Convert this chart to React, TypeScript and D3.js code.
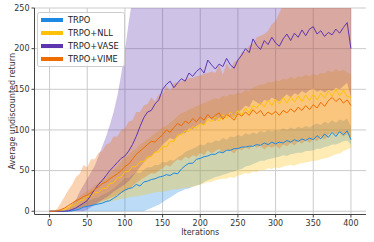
import React from 'react'
import * as d3 from 'd3'

const iterations = d3.range(0, 401, 5)

const trpoMean = [
	0, 0, 0, 0, 0, 0, 0.5, 1.5, 3, 5, 6, 7, 8, 9, 10, 12, 13, 16, 19, 23, 26, 28, 29, 33,
	31, 36, 37, 39, 40, 42, 43, 45, 44, 47, 46, 52, 56, 59, 59, 64, 65, 67, 68, 70, 70, 73, 72, 75,
	75, 77, 77, 79, 79, 80, 80, 82, 81, 84, 82, 85, 83, 85, 84, 87, 85, 88, 86, 89, 87, 90, 88, 93,
	89, 95, 91, 97, 92, 98, 94, 99, 88
]
const trpoLow = [
	0, 0, 0, 0, 0, 0, 0, 0, 0, 0, 0, 0, 0, 0, 0, 0, 0, 0, 0, 0, 0, 0, 0, 0,
	0, 0, 2, 4, 6, 8, 11, 14, 17, 20, 23, 25, 27, 28, 30, 32, 33, 36, 38, 40, 42, 43, 45, 46,
	48, 49, 51, 52, 55, 56, 58, 60, 62, 62, 64, 65, 66, 67, 69, 68, 70, 71, 72, 72, 74, 74, 75, 77,
	77, 79, 80, 82, 82, 84, 86, 87, 82
]
const trpoHigh = [
	0, 0, 0, 0, 0, 1, 3, 5, 8, 10, 12, 14, 16, 17, 20, 22, 25, 28, 32, 36, 41, 41, 45, 48,
	47, 51, 54, 54, 57, 57, 61, 60, 63, 62, 66, 69, 73, 75, 77, 79, 82, 81, 85, 84, 87, 86, 90, 88,
	92, 91, 94, 92, 96, 94, 97, 95, 99, 97, 100, 98, 100, 99, 102, 100, 103, 101, 104, 102, 105, 103, 106, 108,
	106, 110, 108, 112, 109, 113, 111, 114, 104
]

const nllMean = [
	0, 0, 0, 0.5, 2, 4, 7, 8, 13, 14, 18, 18, 23, 23, 28, 28, 34, 35, 41, 42, 49, 49, 55, 55,
	61, 61, 67, 67, 73, 73, 80, 79, 86, 86, 94, 94, 99, 98, 104, 102, 108, 106, 113, 110, 116, 111, 119, 114,
	122, 116, 124, 118, 127, 121, 130, 127, 134, 128, 137, 130, 138, 132, 140, 133, 141, 134, 142, 135, 143, 136, 144, 137,
	145, 139, 148, 141, 150, 142, 149, 141, 140
]
const nllLow = [
	0, 0, 0, 0, 0, 1, 2, 3, 4, 5, 6, 7, 8, 9, 10, 11, 12, 13, 14, 15, 16, 17, 18, 18,
	19, 20, 21, 22, 23, 24, 24, 25, 26, 27, 27, 28, 29, 29, 30, 31, 33, 34, 36, 36, 38, 39, 40, 40,
	42, 41, 44, 45, 47, 46, 49, 48, 51, 50, 53, 52, 54, 53, 55, 56, 57, 56, 58, 59, 60, 61, 62, 62,
	64, 65, 66, 68, 70, 71, 74, 76, 78
]
const nllHigh = [
	0, 0, 0, 1, 4, 7, 10, 14, 18, 22, 25, 28, 32, 35, 39, 42, 47, 51, 55, 61, 66, 69, 74, 77,
	82, 85, 89, 92, 96, 99, 104, 105, 109, 113, 117, 121, 122, 125, 127, 129, 131, 133, 135, 137, 139, 138, 142, 141,
	144, 143, 146, 145, 149, 148, 152, 154, 156, 156, 159, 158, 161, 160, 163, 162, 165, 163, 166, 165, 168, 166, 169, 167,
	170, 169, 173, 171, 175, 172, 174, 171, 168
]

const vaseMean = [
	0, 0, 0, 0, 0, 0.5, 2, 4, 7, 10, 13, 20, 27, 33, 38, 44, 50, 55, 60, 65, 68, 74, 82, 92,
	104, 115, 122, 124, 132, 137, 150, 156, 160, 152, 158, 163, 160, 170, 166, 172, 176, 170, 186, 180, 175, 181, 178, 188,
	180, 176, 186, 192, 200, 195, 212, 204, 199, 210, 205, 214, 207, 203, 212, 218, 210, 219, 214, 223, 216, 224, 227, 218,
	222, 215, 220, 217, 224, 219, 226, 232, 200
]
const vaseLow = [
	0, 0, 0, 0, 0, 0, 0, 0, 0, 0, 2, 5, 8, 11, 14, 17, 20, 24, 27, 30, 33, 37, 42, 48,
	54, 60, 65, 68, 72, 76, 82, 86, 90, 88, 92, 96, 96, 102, 101, 105, 108, 106, 115, 113, 111, 115, 114, 120,
	117, 115, 121, 125, 130, 128, 137, 134, 131, 137, 135, 140, 137, 135, 140, 144, 140, 145, 143, 148, 145, 149, 151, 147,
	149, 146, 149, 148, 152, 150, 154, 158, 140
]
const vaseHigh = [
	0, 0, 0, 0, 1, 4, 8, 14, 24, 32, 40, 48, 56, 68, 80, 92, 106, 122, 142, 168, 198, 232, 262, 290,
	300, 300, 300, 300, 300, 300, 300, 300, 300, 300, 300, 300, 300, 300, 300, 300, 300, 300, 300, 300, 300, 300, 300, 300,
	300, 300, 300, 300, 300, 300, 300, 300, 300, 300, 300, 300, 300, 300, 300, 300, 300, 300, 300, 300, 300, 300, 300, 300,
	300, 300, 300, 300, 300, 300, 300, 300, 300
]

const vimeMean = [
	0, 0, 0.5, 2, 4, 7, 10, 13, 15, 18, 20, 23, 27, 30, 34, 36, 40, 43, 46, 50, 55, 58, 64, 70,
	74, 78, 82, 86, 85, 90, 94, 100, 97, 103, 108, 105, 111, 108, 114, 110, 116, 112, 119, 114, 118, 121, 113, 119,
	116, 112, 120, 117, 122, 118, 125, 120, 124, 117, 122, 119, 123, 118, 124, 121, 126, 122, 128, 124, 130, 125, 131, 127,
	134, 129, 136, 140, 135, 139, 133, 137, 130
]
const vimeLow = [
	0, 0, 0, 0, 0, 1, 2, 3, 4, 5, 6, 7, 9, 11, 13, 14, 16, 18, 20, 22, 25, 27, 31, 35,
	38, 41, 44, 47, 46, 50, 53, 57, 55, 60, 64, 62, 67, 65, 69, 67, 72, 69, 75, 71, 74, 77, 71, 76,
	74, 71, 77, 75, 79, 76, 82, 78, 81, 76, 80, 78, 81, 77, 82, 80, 84, 81, 86, 83, 88, 84, 89, 86,
	92, 88, 94, 98, 94, 97, 92, 95, 90
]
const vimeHigh = [
	0, 0, 3, 10, 18, 26, 33, 42, 46, 57, 54, 64, 64, 72, 74, 82, 84, 92, 92, 100, 102, 110, 112, 122,
	122, 130, 132, 140, 135, 144, 144, 154, 148, 158, 158, 160, 162, 164, 164, 166, 167, 169, 170, 172, 170, 180, 168, 182,
	174, 184, 186, 196, 196, 204, 206, 214, 216, 218, 222, 230, 234, 244, 254, 264, 268, 277, 280, 285, 290, 290, 290, 290,
	290, 290, 290, 290, 290, 290, 290, 290, 290
]

const xTicks = [0, 50, 100, 150, 200, 250, 300, 350, 400]
const yTicks = [0, 50, 100, 150, 200, 250]

const series = [
	{ name: 'TRPO', color: '#1e88e5', mean: trpoMean, low: trpoLow, high: trpoHigh },
	{ name: 'TRPO+NLL', color: '#ffc107', mean: nllMean, low: nllLow, high: nllHigh },
	{ name: 'TRPO+VASE', color: '#5e35b1', mean: vaseMean, low: vaseLow, high: vaseHigh },
	{ name: 'TRPO+VIME', color: '#ef6c00', mean: vimeMean, low: vimeLow, high: vimeHigh }
]

const width = 374
const height = 242
const left = 34.5
const right = 366
const top = 8
const bottom = 214.5
const font = 'DejaVu Sans, sans-serif'

const x = d3.scaleLinear().domain([-20, 420]).range([left, right])
const y = d3.scaleLinear().domain([-4, 250]).range([bottom, top])

const App = () => {
	const line = (vals: number[]) =>
		d3.line<number>().x((_, i) => x(iterations[i])).y((d) => y(d))(vals) || ''
	const band = (lo: number[], hi: number[]) =>
		d3
			.area<number>()
			.x((_, i) => x(iterations[i]))
			.y0((_, i) => y(lo[i]))
			.y1((_, i) => y(hi[i]))(iterations) || ''

	return (
		<svg
			width={width}
			height={height}
			style={{ position: 'absolute', left: 0, top: 0, background: '#fff' }}
			fontFamily={font}
		>
			<defs>
				<clipPath id="plot">
					<rect x={left} y={top} width={right - left} height={bottom - top} />
				</clipPath>
			</defs>
			{/* grid */}
			<g stroke="#cbcbcb" strokeWidth={1}>
				{xTicks.map((t) => (
					<line key={'gx' + t} x1={x(t)} x2={x(t)} y1={top} y2={bottom} />
				))}
				{yTicks.map((t) => (
					<line key={'gy' + t} x1={left} x2={right} y1={y(t)} y2={y(t)} />
				))}
			</g>
			{/* bands and lines */}
			<g clipPath="url(#plot)">
				{series.map((s) => (
					<path key={'b' + s.name} d={band(s.low, s.high)} fill={s.color} fillOpacity={0.3} stroke="none" />
				))}
				{series.map((s) => (
					<path key={'l' + s.name} d={line(s.mean)} fill="none" stroke={s.color} strokeWidth={1} />
				))}
			</g>
			{/* axes */}
			<g stroke="#444" strokeWidth={1}>
				<line x1={left} x2={left} y1={top} y2={bottom} />
				<line x1={left} x2={right} y1={bottom} y2={bottom} />
				{xTicks.map((t) => (
					<line key={'tx' + t} x1={x(t)} x2={x(t)} y1={bottom} y2={bottom + 3} />
				))}
				{yTicks.map((t) => (
					<line key={'ty' + t} x1={left - 3} x2={left} y1={y(t)} y2={y(t)} />
				))}
			</g>
			<g fontSize={8} fill="#333">
				{xTicks.map((t) => (
					<text key={'lx' + t} x={x(t)} y={bottom + 11} textAnchor="middle">
						{t}
					</text>
				))}
				{yTicks.map((t) => (
					<text key={'ly' + t} x={left - 5} y={y(t)} dy="0.32em" textAnchor="end">
						{t}
					</text>
				))}
				<text x={(left + right) / 2} y={235} textAnchor="middle">
					Iterations
				</text>
				<text transform={`translate(12,${(top + bottom) / 2}) rotate(-90)`} textAnchor="middle" dy="0.35em">
					Average undiscounted return
				</text>
			</g>
			{/* legend */}
			<g>
				<rect x={37.5} y={12.5} width={87} height={54} rx={2} fill="#fff" fillOpacity={0.8} stroke="#ccc" strokeWidth={1} />
				{series.map((s, i) => (
					<g key={'lg' + s.name} transform={`translate(0,${20 + i * 13})`}>
						<line x1={41} x2={63} y1={0} y2={0} stroke={s.color} strokeWidth={4} />
						<text x={68} y={0} dy="0.35em" fontSize={8.3} fill="#222">
							{s.name}
						</text>
					</g>
				))}
			</g>
		</svg>
	)
}

export default App
